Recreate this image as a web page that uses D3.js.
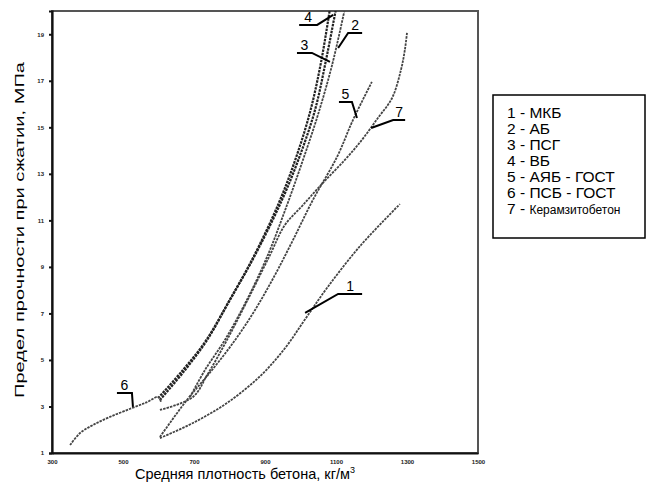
<!DOCTYPE html>
<html>
<head>
<meta charset="utf-8">
<script src="https://cdn.jsdelivr.net/npm/d3@7"></script>
<style>
  body { margin: 0; background: #fff; }
  svg { display: block; font-family: "Liberation Sans", Arial, sans-serif; }
</style>
</head>
<body>
<div id="container"></div>
<script>
/* DATA */
const xTicks = [300, 500, 700, 900, 1100, 1300, 1500];
const yTicks = [1, 3, 5, 7, 9, 11, 13, 15, 17, 19];

// [density kg/m3, strength MPa]
const mkb = [[604, 1.64], [697, 2.29], [793, 3.15], [886, 4.3], [956, 5.5], [1013, 6.75], [1075, 8.1], [1168, 9.9], [1280, 11.7]];
const ab = [[689, 3.41], [731, 4.57], [787, 5.86], [849, 7.58], [908, 9.51], [962, 11.66], [1007, 13.6], [1049, 15.53], [1089, 17.68], [1125, 20.1]];
const psg = [[604, 3.28], [675, 4.57], [737, 5.86], [801, 7.58], [872, 9.51], [948, 11.88], [999, 13.81], [1041, 15.75], [1072, 17.9], [1100, 20.1]];
const vb = [[599, 3.36], [669, 4.57], [731, 5.77], [796, 7.45], [866, 9.38], [939, 11.75], [987, 13.68], [1027, 15.66], [1058, 17.81], [1083, 20.1]];
const ayabGost = [[604, 1.69], [680, 3.28], [751, 4.57], [816, 5.86], [872, 7.15], [928, 8.65], [979, 10.16], [1035, 11.88], [1103, 13.73], [1148, 15.32], [1201, 16.95]];
const psbGost = [[351, 1.34], [379, 1.86], [415, 2.2], [463, 2.55], [525, 2.93], [568, 3.19], [599, 3.41], [607, 3.2]];
const keramzit = [[604, 2.85], [697, 3.41], [737, 4.35], [793, 5.86], [858, 7.79], [914, 9.51], [956, 10.8], [1007, 11.66], [1063, 12.61], [1125, 13.6], [1173, 14.46], [1218, 15.4], [1258, 16.26], [1283, 17.47], [1294, 18.33], [1300, 19.06]];

const seriesIds = ["1", "2", "3", "4", "5", "6", "7"];
const seriesData = [mkb, ab, psg, vb, ayabGost, psbGost, keramzit];
// point on each curve where its number label points
const labelTips = [[1013, 7.02], [1106, 18.41], [1083, 17.81], [1092, 19.83], [1159, 15.4], [528, 2.98], [1199, 14.97]];

const legendNums = ["1", "2", "3", "4", "5", "6", "7"];
const legendNames = ["МКБ", "АБ", "ПСГ", "ВБ", "АЯБ - ГОСТ", "ПСБ - ГОСТ", "Керамзитобетон"];

/* LAYOUT */
const width = 647, height = 484;
const margin = {top: 11, right: 169, bottom: 31, left: 52};

const svg = d3.select("#container").append("svg")
    .attr("width", width)
    .attr("height", height);

/* SCALES */
const xScale = d3.scaleLinear()
    .domain([300, 1500])
    .range([margin.left, width - margin.right]);

const yScale = d3.scaleLinear()
    .domain([1, 20])
    .range([height - margin.bottom, margin.top]);

/* FRAME */
svg.append("rect")
    .attr("x", margin.left)
    .attr("y", margin.top)
    .attr("width", xScale(1500) - margin.left)
    .attr("height", yScale(1) - margin.top)
    .attr("fill", "none")
    .attr("stroke", "#555")
    .attr("stroke-width", 2);

/* AXES */
const yAxis = svg.append("g")
    .attr("transform", `translate(${margin.left},0)`)
    .call(d3.axisLeft(yScale).tickValues(yTicks).tickSize(3).tickPadding(5));
yAxis.select(".domain").attr("stroke", "#111").attr("stroke-width", 2.2);
yAxis.selectAll(".tick line").attr("stroke", "#111").attr("stroke-width", 2);
yAxis.selectAll(".tick text")
    .attr("font-size", 6).attr("font-weight", "bold").attr("fill", "#222");

const xAxis = svg.append("g")
    .attr("transform", `translate(0,${yScale(1)})`)
    .call(d3.axisBottom(xScale).tickValues(xTicks).tickFormat(d3.format("d")).tickSize(0).tickPadding(7));
xAxis.select(".domain").attr("stroke", "#111").attr("stroke-width", 2.2);
xAxis.selectAll(".tick text")
    .attr("font-size", 6).attr("font-weight", "bold").attr("fill", "#222");

// axis titles (stretched like in the scan)
svg.append("text")
    .attr("transform", "translate(24,230)rotate(-90)")
    .attr("text-anchor", "middle")
    .attr("font-size", 13.5)
    .attr("textLength", 336)
    .attr("lengthAdjust", "spacingAndGlyphs")
    .text("Предел прочности при сжатии, МПа");

const xt = svg.append("text")
    .attr("x", 135)
    .attr("y", 479)
    .attr("font-size", 14.5)
    .text("Средняя плотность бетона, кг/м");
xt.append("tspan").attr("font-size", 9).attr("dy", -6).text("3");

/* CURVES */
svg.append("clipPath").attr("id", "plot")
  .append("rect")
    .attr("x", margin.left).attr("y", margin.top)
    .attr("width", xScale(1500) - margin.left)
    .attr("height", yScale(1) - margin.top);

const line = d3.line()
    .x(d => xScale(d[0]))
    .y(d => yScale(d[1]))
    .curve(d3.curveCatmullRom.alpha(0.5));

svg.append("g")
    .attr("clip-path", "url(#plot)")
  .selectAll("path")
  .data(seriesData)
  .join("path")
    .attr("d", line)
    .attr("fill", "none")
    .attr("stroke", (d, i) => (i === 2 || i === 3) ? "#222" : "#444")
    .attr("stroke-width", (d, i) => (i === 2 || i === 3) ? 2.2 : 1.8)
    .attr("stroke-dasharray", "2.5,1");

/* CURVE NUMBER CALLOUTS */
// elbow offset from the tip and underline direction/length, in px
const callout = [
  {dx: 33, dy: -19, len: 24},
  {dx: 10, dy: -15, len: 14},
  {dx: -18, dy: -9, len: -15},
  {dx: -16, dy: 10, len: -18},
  {dx: -5, dy: -16, len: -13},
  {dx: -1, dy: -14, len: -15},
  {dx: 22, dy: -8, len: 12}
];

const labels = svg.append("g");
seriesIds.forEach((id, i) => {
  const tx = xScale(labelTips[i][0]), ty = yScale(labelTips[i][1]);
  const ex = tx + callout[i].dx, ey = ty + callout[i].dy;
  const ux = ex + callout[i].len;
  labels.append("path")
      .attr("d", `M${tx},${ty}L${ex},${ey}L${ux},${ey}`)
      .attr("fill", "none")
      .attr("stroke", "#000")
      .attr("stroke-width", 2);
  labels.append("text")
      .attr("x", (ex + ux) / 2)
      .attr("y", ey - 3)
      .attr("text-anchor", "middle")
      .attr("font-size", 14)
      .text(id);
});

/* LEGEND */
const legend = svg.append("g").attr("transform", "translate(493,95)");
legend.append("rect")
    .attr("width", 152)
    .attr("height", 143)
    .attr("fill", "#fff")
    .attr("stroke", "#000")
    .attr("stroke-width", 1.5);

legendNames.forEach((name, i) => {
  const t = legend.append("text")
      .attr("x", 14)
      .attr("y", 23 + i * 16)
      .attr("font-size", 15.5)
      .text(legendNums[i] + " - ");
  t.append("tspan")
      .attr("font-size", i === 6 ? 12 : 15.5)
      .text(name);
});
</script>
</body>
</html>
